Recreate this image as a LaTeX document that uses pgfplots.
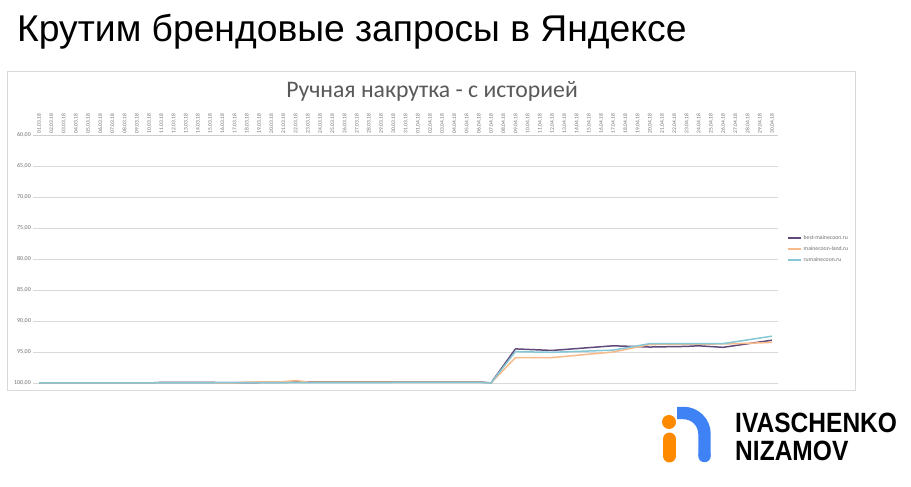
\documentclass[border=0pt]{standalone}
\usepackage{pgfplots}
\pgfplotsset{compat=1.18}
\usepackage{pgfplotstable}
\usepackage{fontspec}
\setmainfont{Carlito}
\newfontfamily\arialf{Liberation Sans}
\definecolor{gridgray}{HTML}{D9D9D9}
\definecolor{framegray}{HTML}{D9D9D9}
\definecolor{labelgray}{HTML}{6F6F6F}
\definecolor{titlegray}{HTML}{595959}
\definecolor{cpurple}{HTML}{604A7B}
\definecolor{corange}{HTML}{F8BA8A}
\definecolor{cblue}{HTML}{86C7D6}
\definecolor{logoblue}{HTML}{3F82F6}
\definecolor{logoorange}{HTML}{FF8A00}

\pgfplotstableread{
x y
0 100
9 100
10 99.9
14 99.9
15 99.95
20 99.9
21 99.85
22 99.8
36 99.8
37 100
39 94.5
42 94.75
47 94.0
50 94.2
53 94.1
54 94.0
56 94.25
60 93.1
}\best
\pgfplotstableread{
x y
0 100
16 100
17 99.85
20 99.8
21 99.6
22 99.85
36 99.85
37 100
39 95.9
42 95.9
47 95.0
50 93.8
56 93.7
58 93.6
60 93.45
}\land
\pgfplotstableread{
x y
0 100
36 99.9
37 100
39 94.95
42 95.05
47 94.7
50 93.65
56 93.65
60 92.45
}\ru

\begin{document}
\begin{tikzpicture}[x=1bp,y=1bp]
\path[fill=white] (0,0) rectangle (911,487);
\useasboundingbox (0,0) rectangle (911,487);
% slide title
\node[anchor=base west, inner sep=0, text=black] at (17,445) {\arialf\fontsize{37.4}{44}\selectfont Крутим брендовые запросы в Яндексе};
% chart frame
\draw[framegray, line width=0.75bp] (7,416) rectangle (855,97);
% chart title
\node[anchor=base, inner sep=0, text=titlegray] at (432,389.7) {\fontsize{23.8}{28}\selectfont Ручная накрутка - с историей};

\begin{axis}[
  at={(33bp,104bp)}, anchor=south west,
  scale only axis, width=745bp, height=248bp,
  xmin=-0.5, xmax=60.5, ymin=60, ymax=100, y dir=reverse,
  axis line style={draw=none},
  xtick={0,...,60},
  xticklabels={01.03.18,02.03.18,03.03.18,04.03.18,05.03.18,06.03.18,07.03.18,08.03.18,09.03.18,10.03.18,11.03.18,12.03.18,13.03.18,14.03.18,15.03.18,16.03.18,17.03.18,18.03.18,19.03.18,20.03.18,21.03.18,22.03.18,23.03.18,24.03.18,25.03.18,26.03.18,27.03.18,28.03.18,29.03.18,30.03.18,31.03.18,01.04.18,02.04.18,03.04.18,04.04.18,05.04.18,06.04.18,07.04.18,08.04.18,09.04.18,10.04.18,11.04.18,12.04.18,13.04.18,14.04.18,15.04.18,16.04.18,17.04.18,18.04.18,19.04.18,20.04.18,21.04.18,22.04.18,23.04.18,24.04.18,25.04.18,26.04.18,27.04.18,28.04.18,29.04.18,30.04.18},
  xticklabel pos=upper,
  xticklabel style={rotate=90, anchor=west, font=\fontsize{5.5}{6}\selectfont, text=labelgray, inner sep=1.5bp},
  ytick={60,65,...,100},
  yticklabels={{60,00},{65,00},{70,00},{75,00},{80,00},{85,00},{90,00},{95,00},{100,00}},
  ytick pos=left,
  yticklabel style={font=\fontsize{6}{7}\selectfont, text=labelgray, inner sep=2bp},
  major tick length=0pt,
  ymajorgrids, grid style={gridgray, line width=0.6bp},
  legend style={draw=none, fill=none, at={(axis description cs:1.012,0.54)}, anchor=west,
    font=\fontsize{5.8}{7}\selectfont, text=labelgray, row sep=1.6bp, inner sep=0pt, cells={anchor=west}},
  legend image code/.code={\draw[#1] (0bp,0bp) -- (13bp,0bp);},
  every axis plot/.append style={line width=1.5bp, line join=round, no markers},
  clip=false,
]
\draw[gridgray!80!black!60, line width=0.6bp] (axis cs:-0.5,60) -- (axis cs:60.5,60);
\addplot[cpurple] table[x=x,y=y] {\best};
\addlegendentry{best-mainecoon.ru}
\addplot[corange] table[x=x,y=y] {\land};
\addlegendentry{mainecoon-land.ru}
\addplot[cblue] table[x=x,y=y] {\ru};
\addlegendentry{rumainecoon.ru}
\end{axis}

% logo
\fill[logoorange] (669,65) circle (7);
\draw[logoorange, line width=13, line cap=round] (669.5,48) -- (669.5,31);
\draw[logoblue, line width=12.5, line cap=butt] (677,74) -- (683.5,74) arc[start angle=90, end angle=0, radius=21] -- (704.5,31);
\fill[logoblue] (704.5,31) circle (6.25);
\node[anchor=base west, inner sep=0] at (735,54) {\scalebox{0.88}[1]{\arialf\bfseries\fontsize{28}{30}\selectfont IVASCHENKO}};
\node[anchor=base west, inner sep=0] at (735,26) {\scalebox{0.88}[1]{\arialf\bfseries\fontsize{28}{30}\selectfont NIZAMOV}};
\end{tikzpicture}
\end{document}
